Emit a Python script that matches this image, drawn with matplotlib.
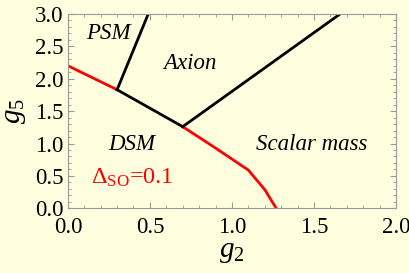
import matplotlib
matplotlib.use("Agg")
import matplotlib.pyplot as plt
from matplotlib.ticker import MultipleLocator, FormatStrFormatter

plt.rcParams['font.family'] = ['Liberation Serif', 'DejaVu Serif']
plt.rcParams['mathtext.fontset'] = 'custom'
plt.rcParams['mathtext.rm'] = 'Liberation Serif'
plt.rcParams['mathtext.it'] = 'Liberation Serif:italic'

# red boundary (Delta_SO = 0.1), left part and right part
red_left_x = [0.0, 0.30]
red_left_y = [2.20, 1.83]
red_right_x = [0.70, 0.90, 1.10, 1.20, 1.27]
red_right_y = [1.26, 0.93, 0.59, 0.29, 0.0]
# black boundaries
black_mid_x = [0.30, 0.70]
black_mid_y = [1.83, 1.26]
black_psm_x = [0.30, 0.49]
black_psm_y = [1.83, 3.0]
black_axion_x = [0.70, 1.66]
black_axion_y = [1.26, 3.0]

bg = '#FFFFE0'
fig = plt.figure(figsize=(4.09, 2.73), dpi=100, facecolor=bg)
ax = fig.add_axes([0.166, 0.237, 0.802, 0.712], facecolor=bg)

ax.plot(red_left_x, red_left_y, color='red', lw=2)
ax.plot(red_right_x, red_right_y, color='red', lw=2)
ax.plot(black_mid_x, black_mid_y, color='black', lw=2)
ax.plot(black_psm_x, black_psm_y, color='black', lw=2)
ax.plot(black_axion_x, black_axion_y, color='black', lw=2)

ax.set_xlim(0, 2.0)
ax.set_ylim(0, 3.0)
ax.xaxis.set_major_locator(MultipleLocator(0.5))
ax.yaxis.set_major_locator(MultipleLocator(0.5))
ax.xaxis.set_minor_locator(MultipleLocator(0.1))
ax.yaxis.set_minor_locator(MultipleLocator(0.1))
ax.xaxis.set_major_formatter(FormatStrFormatter('%.1f'))
ax.yaxis.set_major_formatter(FormatStrFormatter('%.1f'))
ax.tick_params(which='both', direction='in', top=True, right=True, color='#999999',
               labelsize=16.5)
ax.tick_params(axis='x', which='major', pad=6)
ax.tick_params(axis='y', which='major', pad=3)
ax.tick_params(which='major', length=4, width=0.8)
ax.tick_params(which='minor', length=2, width=0.6)
for s in ax.spines.values():
    s.set_color('#999999')
    s.set_linewidth(0.8)

ax.set_xlabel(r'$g_2$', fontsize=21, labelpad=1)
ax.set_ylabel(r'$g_5$', fontsize=21, labelpad=5)

ax.text(0.246, 2.70, 'PSM', style='italic', fontsize=16.5, ha='center', va='center')
ax.text(0.744, 2.24, 'Axion', style='italic', fontsize=16.5, ha='center', va='center')
ax.text(0.388, 0.98, 'DSM', style='italic', fontsize=16.5, ha='center', va='center')
ax.text(1.486, 0.98, 'Scalar mass', style='italic', fontsize=16.5, ha='center', va='center')
ax.text(0.14, 0.47, r'$\Delta_{\rm SO}$=0.1', color='red', fontsize=17.5, ha='left', va='center')

fig.savefig('out.png', dpi=100, facecolor=bg)
